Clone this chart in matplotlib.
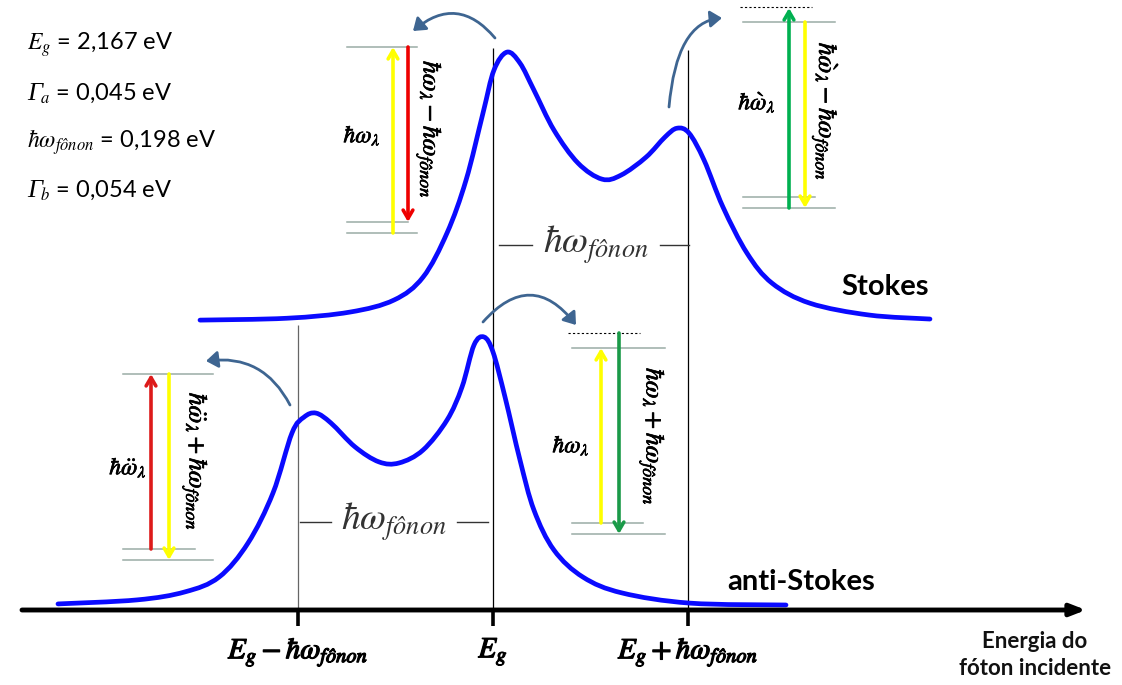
import matplotlib
matplotlib.use("Agg")
import matplotlib.pyplot as plt
import matplotlib.patheffects as pe
from matplotlib.patches import FancyArrowPatch, PathPatch
from matplotlib.path import Path

plt.rcParams["font.family"] = ["Lato", "DejaVu Sans"]
plt.rcParams["mathtext.fontset"] = "stix"

# parameters of the model (shown in the corner)
Eg = 2.167
gamma_a = 0.045
phonon = 0.198
gamma_b = 0.054

# anti-Stokes profile (energy in eV, intensity normalised)
as_energy = [1.7253, 1.8055, 1.8543, 1.8888, 1.9182, 1.9436, 1.9629, 1.9751, 1.9873,
             2.0025, 2.0269, 2.0512, 2.0716, 2.0959, 2.1203, 2.1355, 2.1477, 2.1579,
             2.1670, 2.1792, 2.1944, 2.2086, 2.2289, 2.2584, 2.2980, 2.3670, 2.4645]
as_int = [0.004, 0.019, 0.049, 0.104, 0.231, 0.418, 0.642, 0.701, 0.716, 0.679, 0.590,
          0.534, 0.530, 0.578, 0.690, 0.813, 0.970, 1.000, 0.944, 0.776, 0.541, 0.354,
          0.205, 0.104, 0.045, 0.007, 0.0]

# Stokes profile
st_energy = [1.8695, 1.9578, 2.0218, 2.0665, 2.0959, 2.1203, 2.1396, 2.1568, 2.1680,
             2.1812, 2.1944, 2.2086, 2.2289, 2.2533, 2.2777, 2.2970, 2.3224, 2.3416,
             2.3538, 2.3660, 2.3813, 2.4005, 2.4249, 2.4503, 2.4889, 2.5488, 2.6107]
st_int = [0.0, 0.007, 0.030, 0.075, 0.160, 0.325, 0.522, 0.772, 0.933, 1.000, 0.959,
          0.858, 0.709, 0.586, 0.526, 0.541, 0.608, 0.683, 0.716, 0.698, 0.597, 0.422,
          0.250, 0.138, 0.063, 0.019, 0.004]
st_offset = 1.063

W, H = 1122, 685
ev_per_px = phonon / 195.0
px_eg = 493


def ydat(py):
    # pixel row -> intensity units of the main axes
    return (605 - py) / 268.0


def smooth_path(xs, ys):
    # Catmull-Rom style cubic segments through the read points
    verts = [(xs[0], ys[0])]
    codes = [Path.MOVETO]
    n = len(xs)
    for i in range(n - 1):
        x0, y0 = (xs[i - 1], ys[i - 1]) if i > 0 else (xs[i], ys[i])
        x1, y1 = xs[i], ys[i]
        x2, y2 = xs[i + 1], ys[i + 1]
        x3, y3 = (xs[i + 2], ys[i + 2]) if i + 2 < n else (x2, y2)
        verts += [(x1 + (x2 - x0) / 6, y1 + (y2 - y0) / 6),
                  (x2 - (x3 - x1) / 6, y2 - (y3 - y1) / 6),
                  (x2, y2)]
        codes += [Path.CURVE4] * 3
    return Path(verts, codes)


fig = plt.figure(figsize=(W / 100, H / 100), dpi=100)
ax = fig.add_axes([0, 0, 1, 1])
ax.set_xlim(Eg - px_eg * ev_per_px, Eg + (W - px_eg) * ev_per_px)
ax.set_ylim(ydat(H), ydat(0))
ax.axis("off")

ov = fig.add_axes([0, 0, 1, 1], zorder=3)
ov.set_xlim(0, W)
ov.set_ylim(H, 0)
ov.axis("off")
ov.patch.set_alpha(0)

blue = "#0a0aff"
for xs, ys in [(as_energy, as_int), (st_energy, [v + st_offset for v in st_int])]:
    ax.add_patch(PathPatch(smooth_path(xs, ys), fill=False, edgecolor=blue, lw=3.4,
                           capstyle="round", joinstyle="round", zorder=4))

bold = [pe.withStroke(linewidth=0.9, foreground="black")]
semibold = [pe.withStroke(linewidth=0.5, foreground="black")]

# vertical guides and ticks
ticks = [Eg - phonon, Eg, Eg + phonon]
ax.vlines(ticks[0], ydat(610), ydat(325), color="#666666", lw=0.9)
ax.vlines(ticks[1], ydat(610), ydat(48), color="black", lw=0.9)
ax.vlines(ticks[2], ydat(610), ydat(50), color="black", lw=0.9)
ax.vlines(ticks, ydat(626), ydat(610), color="black", lw=2.6)
tick_labels = [r"$E_g - \hbar\omega_{\mathit{fônon}}$",
               r"$E_g$",
               r"$E_g + \hbar\omega_{\mathit{fônon}}$"]
for t, lab in zip(ticks, tick_labels):
    ax.text(t, ydat(652), lab, ha="center", va="center", fontsize=21, path_effects=bold)

# energy axis
ov.annotate("", xy=(1086, 610), xytext=(22, 610),
            arrowprops=dict(arrowstyle="-|>,head_length=0.9,head_width=0.35",
                            color="black", lw=3.5, shrinkA=0, shrinkB=0))
ov.text(1035, 655, "Energia do\nfóton incidente", ha="center", va="center",
        fontsize=16, fontweight="bold", color="#111111", linespacing=1.3)
ov.text(885, 287, "Stokes", ha="center", va="center", fontsize=21, fontweight="bold")
ov.text(801, 582, "anti-Stokes", ha="center", va="center", fontsize=21, fontweight="bold")

# parameters
ov.text(27, 45, r"$E_g$ = 2,167 eV", ha="left", va="center", fontsize=17)
ov.text(27, 93.5, "Γ", ha="left", va="center", fontsize=19, style="italic",
        family="Liberation Serif")
ov.text(40, 93.5, r"${}_a$ = 0,045 eV", ha="left", va="center", fontsize=17)
ov.text(27, 142, r"$\hbar\omega_{\mathit{fônon}}$ = 0,198 eV", ha="left", va="center", fontsize=17)
ov.text(27, 190.5, "Γ", ha="left", va="center", fontsize=19, style="italic",
        family="Liberation Serif")
ov.text(40, 190.5, r"${}_b$ = 0,054 eV", ha="left", va="center", fontsize=17)

# phonon spacing labels
for (x0, x1, xa, xb, y) in [(499, 689, 532, 660, 245), (300, 488, 331, 457, 522)]:
    ov.plot([x0, xa], [y, y], color="#333333", lw=1)
    ov.plot([xb, x1], [y, y], color="#333333", lw=1)
    ov.text((xa + xb) / 2, y, r"$\hbar\omega_{\mathit{fônon}}$", ha="center", va="center",
            fontsize=27, color="#333333")

level_c = "#9aaca6"


def level(x0, x1, y):
    ov.plot([x0, x1], [y, y], color=level_c, lw=1.1)


def varrow(x, y0, y1, color):
    ov.annotate("", xy=(x, y1), xytext=(x, y0),
                arrowprops=dict(arrowstyle="->,head_length=0.6,head_width=0.35",
                                color=color, lw=2.6, shrinkA=0, shrinkB=0))


def bent(a, b, cs):
    ov.add_patch(FancyArrowPatch(a, b, connectionstyle=cs,
                                 arrowstyle="-|>,head_length=7,head_width=5",
                                 color="#3e6591", lw=2, shrinkA=0, shrinkB=0))


def side(x, y, s, rot=0, size=17):
    if rot:
        size = 18.5
    ov.text(x, y, s, ha="center", va="center", rotation=rot, fontsize=size,
            path_effects=semibold)


# Stokes, left scheme
level(347, 417, 47)
level(347, 408, 222)
level(347, 417, 233)
varrow(393, 233, 47, "#ffff00")
varrow(408, 47, 222, "#ee0000")
side(362, 135, r"$\hbar\omega_\lambda$")
side(429, 130, r"$\hbar\omega_\lambda - \hbar\omega_{\mathit{fônon}}$", 270)
bent((495, 38), (413, 31), "arc3,rad=0.5")

# Stokes, right scheme
ov.plot([740, 812], [7, 7], color="black", lw=0.8, ls=(0, (2, 2)))
level(743, 835, 22)
level(743, 815, 197)
level(743, 835, 208)
varrow(789, 208, 8, "#00b050")
varrow(805, 22, 208, "#ffff00")
side(757, 102, r"$\hbar\grave{\omega}_\lambda$")
side(825, 112, r"$\hbar\grave{\omega}_\lambda - \hbar\omega_{\mathit{fônon}}$", 270)
bent((669, 107), (722, 18), "angle3,angleA=85,angleB=5")

# anti-Stokes, left scheme
level(123, 213, 374)
level(123, 195, 549)
level(123, 213, 560)
varrow(151, 549, 374, "#dd1a1a")
varrow(169, 374, 560, "#ffff00")
side(128, 467, r"$\hbar\ddot{\omega}_\lambda$")
side(195, 462, r"$\hbar\ddot{\omega}_\lambda + \hbar\omega_{\mathit{fônon}}$", 270)
bent((290, 405), (206, 361), "arc3,rad=0.35")

# anti-Stokes, right scheme
ov.plot([568, 640], [333, 333], color="black", lw=0.8, ls=(0, (2, 2)))
level(572, 665, 348)
level(572, 643, 523)
level(572, 665, 534)
varrow(601, 523, 348, "#ffff00")
varrow(619, 333, 534, "#1a9a48")
side(571, 445, r"$\hbar\omega_\lambda$")
side(652, 437, r"$\hbar\omega_\lambda + \hbar\omega_{\mathit{fônon}}$", 270)
bent((483, 322), (576, 325), "arc3,rad=-0.6")

fig.savefig("out.png", dpi=100)
